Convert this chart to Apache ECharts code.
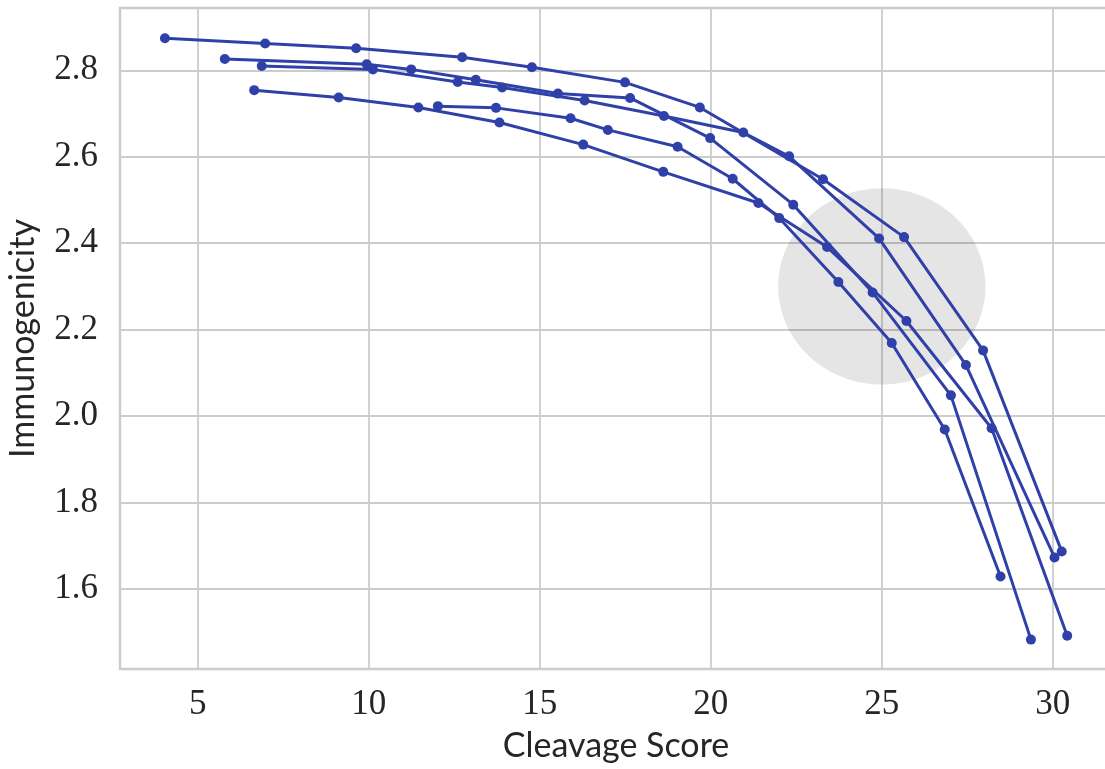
<!DOCTYPE html>
<html>
<head>
<meta charset="utf-8">
<script src="https://cdn.jsdelivr.net/npm/echarts@6/dist/echarts.min.js"></script>
<style>
html,body{margin:0;padding:0;background:#fff;}
#chart{width:1105px;height:769px;}
</style>
</head>
<body>
<div id="chart"></div>
<script>
// Cleavage score (x) and immunogenicity (y) for each of five curves
const curve1X = [4.04, 6.97, 9.63, 12.73, 14.77, 17.49, 19.68, 23.28, 25.65, 27.96, 30.26];
const curve1Y = [2.874, 2.862, 2.851, 2.830, 2.807, 2.772, 2.714, 2.548, 2.414, 2.152, 1.687];

const curve2X = [5.79, 9.94, 11.24, 13.13, 15.53, 17.64, 19.98, 22.41, 24.73, 27.02, 29.36];
const curve2Y = [2.826, 2.814, 2.802, 2.778, 2.746, 2.736, 2.643, 2.489, 2.286, 2.048, 1.483];

const curve3X = [6.87, 10.12, 12.60, 13.90, 16.31, 18.63, 20.95, 22.29, 24.92, 27.46, 30.05];
const curve3Y = [2.810, 2.802, 2.773, 2.760, 2.730, 2.694, 2.656, 2.601, 2.411, 2.118, 1.673];

const curve4X = [6.65, 9.12, 11.45, 13.82, 16.27, 18.61, 21.39, 23.40, 25.72, 28.21, 30.42];
const curve4Y = [2.754, 2.737, 2.714, 2.679, 2.628, 2.565, 2.493, 2.391, 2.220, 1.972, 1.492];

const curve5X = [12.02, 13.72, 15.90, 16.99, 19.03, 20.64, 22.00, 23.73, 25.29, 26.84, 28.47];
const curve5Y = [2.717, 2.713, 2.689, 2.662, 2.623, 2.549, 2.458, 2.310, 2.169, 1.969, 1.629];

// Shaded highlight region (data units)
const highlightCenter = [25, 2.3];
const highlightRadius = [3.03, 0.227];

// Axis extents and labels
const xRange = [2.726, 31.73];
const yRange = [1.415, 2.944];
const xTitle = 'Cleavage Score';
const yTitle = 'Immunogenicity';

const curves = [
  [curve1X, curve1Y], [curve2X, curve2Y], [curve3X, curve3Y],
  [curve4X, curve4Y], [curve5X, curve5Y]
];

const lineColor = '#2f40a8';
const gridColor = '#cccccc';

const lineSeries = curves.map(function (c, k) {
  return {
    type: 'line',
    name: 'curve' + (k + 1),
    data: c[0].map(function (x, i) { return [x, c[1][i]]; }),
    symbol: 'circle',
    symbolSize: 10,
    showSymbol: true,
    lineStyle: { color: lineColor, width: 3 },
    itemStyle: { color: lineColor },
    z: 3,
    clip: false,
    silent: true
  };
});

const ellipseSeries = {
  type: 'custom',
  data: [[highlightCenter[0], highlightCenter[1], highlightRadius[0], highlightRadius[1]]],
  z: 1,
  silent: true,
  renderItem: function (params, api) {
    const cx = api.value(0), cy = api.value(1), rx = api.value(2), ry = api.value(3);
    const pts = [];
    const n = 120;
    for (let i = 0; i < n; i++) {
      const t = 2 * Math.PI * i / n;
      pts.push(api.coord([cx + rx * Math.cos(t), cy + ry * Math.sin(t)]));
    }
    return {
      type: 'polygon',
      shape: { points: pts },
      style: { fill: 'rgba(0,0,0,0.1)', stroke: null }
    };
  }
};

const chart = echarts.init(document.getElementById('chart'), null, { renderer: 'canvas' });
chart.setOption({
  animation: false,
  backgroundColor: '#ffffff',
  grid: {
    left: 120, top: 8, bottom: 100, width: 992,
    outerBoundsMode: 'none',
    containLabel: false,
    show: true, borderColor: gridColor, borderWidth: 2.5, backgroundColor: 'transparent'
  },
  xAxis: {
    type: 'value',
    min: xRange[0], max: xRange[1],
    splitNumber: 5,
    name: xTitle,
    nameLocation: 'middle',
    nameGap: 60,
    nameTextStyle: { fontFamily: 'Lato', fontSize: 34, color: '#262626' },
    axisLine: { show: false },
    axisTick: { show: false },
    axisLabel: {
      showMinLabel: false, showMaxLabel: false,
      margin: 18,
      fontFamily: 'Liberation Serif', fontSize: 35, color: '#262626'
    },
    splitLine: { show: true, lineStyle: { color: gridColor, width: 1.8 } }
  },
  yAxis: {
    type: 'value',
    min: yRange[0], max: yRange[1],
    splitNumber: 8,
    name: yTitle,
    nameLocation: 'middle',
    nameGap: 80,
    nameRotate: 90,
    nameTextStyle: { fontFamily: 'Lato', fontSize: 34, color: '#262626' },
    axisLine: { show: false },
    axisTick: { show: false },
    axisLabel: {
      showMinLabel: false, showMaxLabel: false,
      margin: 22,
      fontFamily: 'Liberation Serif', fontSize: 35, color: '#262626',
      formatter: function (v) { return v.toFixed(1); }
    },
    splitLine: { show: true, lineStyle: { color: gridColor, width: 1.8 } }
  },
  series: [ellipseSeries].concat(lineSeries)
});
</script>
</body>
</html>
